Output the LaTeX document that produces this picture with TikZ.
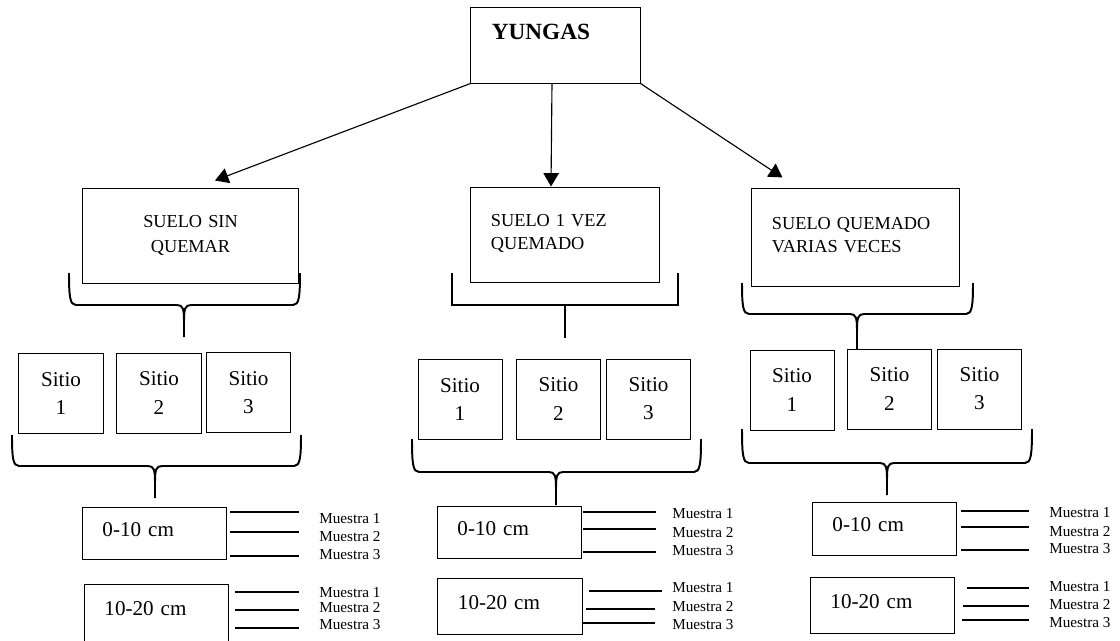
\documentclass[tikz,border=0pt]{standalone}
\usepackage{fontspec}
\setmainfont{Liberation Serif}
\usetikzlibrary{arrows.meta}
\usetikzlibrary{calc}

\tikzset{
  caja/.style={draw, line width=0.7pt, inner ysep=0pt},
  suelo/.style={caja, inner xsep=0.5cm, text depth=0.7cm, font=\fontsize{13}{17.5}\selectfont},
  sitio/.style={caja, align=center, minimum width=2.1cm, minimum height=2cm, font=\fontsize{15}{20}\selectfont},
  prof/.style={caja, inner xsep=0.5cm, text width=2.6cm, align=left, text depth=0.2cm, font=\fontsize{15}{18}\selectfont},
  muestra/.style={anchor=west, inner sep=0pt, font=\fontsize{10.8}{13}\selectfont},
  flecha/.style={line width=0.8pt, -{Triangle[length=9.5pt,width=11pt]}},
  llave/.style={line width=1.4pt},
  linea/.style={line width=0.8pt}
}

% llave: izquierda, arriba, base, centro, derecha, punta
\newcommand{\llave}[6]{%
  \draw[llave] (#1,#2) .. controls (#1,#3-8) and (#1+1,#3) .. (#1+7,#3) -- (#4-7,#3) .. controls (#4-1,#3) and (#4,#3+4) .. (#4,#3+16) -- (#4,#6);
  \draw[llave] (#5,#2) .. controls (#5,#3-8) and (#5-1,#3) .. (#5-7,#3) -- (#4+7,#3) .. controls (#4+1,#3) and (#4,#3+4) .. (#4,#3+16);
  \draw[line width=1.9pt] (#4,#3+10) -- (#4,#6);}

\begin{document}
\begin{tikzpicture}[x=0.025cm, y=-0.025cm]
  \useasboundingbox (0,0) rectangle (1120,640);

  \node[caja, inner xsep=0.525cm, text width=3.175cm, minimum height=1.9cm, text depth=0.65cm,
        font=\fontsize{16.5}{20}\selectfont\bfseries] (yun) at (555.5,45) {YUNGAS};

  % tipos de suelo
  \node[suelo, text width=4.375cm, align=center, minimum height=2.375cm] (sin) at (190.5,235.5) {SUELO SIN\\QUEMAR};
  \node[suelo, text width=3.7cm, align=left, minimum height=2.375cm, font=\fontsize{13}{16.5}\selectfont] (una) at (565,234.5) {SUELO 1 VEZ\\QUEMADO};
  \node[suelo, text width=4.175cm, align=left, minimum height=2.45cm, font=\fontsize{13}{16.5}\selectfont] (var) at (855.5,237) {SUELO QUEMADO\\VARIAS VECES};

  \draw[flecha] (yun.south west) -- ($(sin.north)+(24.5,-7)$);
  \draw[flecha] ($(yun.south)+(-3.5,0)$) -- ($(una.north)+(-14,0)$);
  \draw[flecha] (yun.south east) -- ($(var.north west)+(31,-10)$);

  % sitios
  \node[sitio] (s11) at (61,393.5) {Sitio\\1};
  \node[sitio] (s12) at (159,393) {Sitio\\2};
  \node[sitio] (s13) at (248.5,392.5) {Sitio\\3};
  \node[sitio] (s21) at (460,399.5) {Sitio\\1};
  \node[sitio] (s22) at (558.5,399) {Sitio\\2};
  \node[sitio] (s23) at (648.5,399) {Sitio\\3};
  \node[sitio] (s31) at (792,390) {Sitio\\1};
  \node[sitio] (s32) at (889.5,389) {Sitio\\2};
  \node[sitio] (s33) at (979.5,389) {Sitio\\3};

  % llaves
  \llave{69}{273}{305}{184}{300}{337}
  \llave{12}{435}{466}{155}{301}{498}
  \draw[llave] (452,273) |- (678,305) -- (678,273);
  \draw[llave] (565,305) -- (565,338);
  \llave{412}{439}{472}{556}{701}{505}
  \llave{742}{283}{314}{857}{973}{349}
  \llave{742}{429}{463}{887}{1032}{495}

  % profundidades
  \node[prof, minimum height=1.3cm] (d11) at (154.5,533) {0-10 cm};
  \node[prof, minimum height=1.55cm, text depth=0.35cm] (d12) at (156.5,615) {10-20 cm};
  \node[prof, minimum height=1.3cm] (d21) at (509.5,532) {0-10 cm};
  \node[prof, minimum height=1.4cm] (d22) at (510,606) {10-20 cm};
  \node[prof, minimum height=1.325cm] (d31) at (884.5,528.5) {0-10 cm};
  \node[prof, minimum height=1.4cm] (d32) at (882.5,605) {10-20 cm};

  % muestras
  \foreach \n/\x/\ya/\yb/\yc in {d11/319/519/537/555, d12/319/593/608/625,
      d21/672/514/533/551, d22/672/588/607/625, d31/1049/513/532/549, d32/1049/587/605/623} {
    \node[muestra] (\n m1) at (\x,\ya) {Muestra 1};
    \node[muestra] (\n m2) at (\x,\yb) {Muestra 2};
    \node[muestra] (\n m3) at (\x,\yc) {Muestra 3};
  }
  \foreach \xa/\xb/\y in {230/299/512, 230/299/532, 230/299/556,
      235/299/592, 235/299/610, 235/299/628,
      583/656/512, 583/656/529, 583/656/552,
      589/662/591, 586/655/609, 583/655/623,
      961/1029/511, 961/1029/527, 961/1029/550,
      967/1029/588, 963/1029/606, 962/1029/620}
    \draw[linea] (\xa,\y) -- (\xb,\y);
\end{tikzpicture}
\end{document}
